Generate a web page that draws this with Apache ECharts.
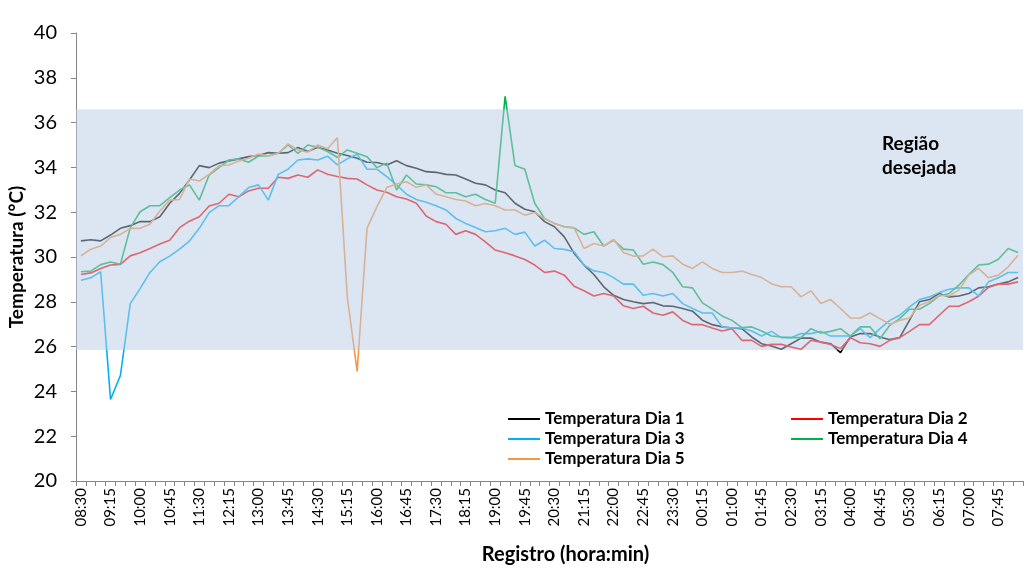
<!DOCTYPE html>
<html>
<head>
<meta charset="utf-8">
<script src="https://cdn.jsdelivr.net/npm/echarts@6/dist/echarts.min.js"></script>
<style>
  html, body { margin: 0; padding: 0; background: #ffffff; }
  #chart { width: 1028px; height: 569px; }
</style>
</head>
<body>
<div id="chart"></div>
<script>
// Registro a cada 15 minutos (08:30 até 08:15 do dia seguinte)
const horarios = [
  '08:30','08:45','09:00','09:15','09:30','09:45','10:00','10:15','10:30','10:45','11:00','11:15',
  '11:30','11:45','12:00','12:15','12:30','12:45','13:00','13:15','13:30','13:45','14:00','14:15',
  '14:30','14:45','15:00','15:15','15:30','15:45','16:00','16:15','16:30','16:45','17:00','17:15',
  '17:30','17:45','18:00','18:15','18:30','18:45','19:00','19:15','19:30','19:45','20:00','20:15',
  '20:30','20:45','21:00','21:15','21:30','21:45','22:00','22:15','22:30','22:45','23:00','23:15',
  '23:30','23:45','00:00','00:15','00:30','00:45','01:00','01:15','01:30','01:45','02:00','02:15',
  '02:30','02:45','03:00','03:15','03:30','03:45','04:00','04:15','04:30','04:45','05:00','05:15',
  '05:30','05:45','06:00','06:15','06:30','06:45','07:00','07:15','07:30','07:45','08:00','08:15'
];

// Temperaturas (°C)
const dia1 = [
  30.72,30.77,30.72,30.98,31.28,31.40,31.58,31.58,31.80,32.40,32.84,33.44,34.08,33.99,34.19,34.29,34.38,34.48,34.53,34.66,34.63,34.66,34.89,34.71,34.90,
  34.78,34.63,34.53,34.41,34.23,34.22,34.11,34.30,34.08,33.96,33.81,33.78,33.69,33.66,33.48,33.29,33.22,32.99,32.87,32.40,32.13,32.02,31.58,
  31.35,30.90,30.16,29.64,29.22,28.67,28.29,28.10,28.00,27.92,27.97,27.82,27.80,27.70,27.58,27.18,26.98,26.88,26.83,26.80,26.43,26.13,26.03,25.88,
  26.13,26.38,26.38,26.20,26.13,25.73,26.43,26.58,26.58,26.43,26.31,26.40,27.18,28.00,28.10,28.37,28.22,28.26,28.37,28.62,28.67,28.79,28.89,29.08
];
const dia2 = [
  29.22,29.29,29.49,29.64,29.67,30.05,30.19,30.38,30.58,30.75,31.31,31.60,31.80,32.28,32.40,32.80,32.69,32.95,33.07,33.07,33.56,33.51,33.66,33.56,33.89,
  33.69,33.59,33.51,33.48,33.22,32.99,32.89,32.69,32.59,32.40,31.83,31.58,31.46,31.01,31.17,31.01,30.68,30.31,30.19,30.05,29.89,29.64,29.31,
  29.37,29.19,28.69,28.49,28.26,28.37,28.26,27.82,27.70,27.80,27.50,27.40,27.55,27.17,26.98,26.98,26.83,26.70,26.80,26.28,26.28,26.01,26.10,26.10,
  25.98,25.88,26.28,26.20,26.09,25.91,26.40,26.17,26.13,26.01,26.28,26.40,26.68,26.98,26.98,27.40,27.80,27.80,28.00,28.25,28.64,28.79,28.79,28.89
];
const dia3 = [
  28.96,29.07,29.34,23.64,24.71,27.92,28.59,29.31,29.79,30.04,30.35,30.71,31.28,31.98,32.29,32.29,32.69,33.10,33.22,32.54,33.69,33.92,34.33,34.38,34.33,
  34.50,34.11,34.38,34.59,33.92,33.92,33.59,33.22,32.80,32.57,32.44,32.29,32.10,31.72,31.50,31.32,31.13,31.17,31.28,31.01,31.11,30.49,30.75,
  30.38,30.34,30.23,29.64,29.38,29.31,29.08,28.79,28.79,28.29,28.37,28.26,28.37,27.92,27.70,27.50,27.50,26.88,26.83,26.83,26.70,26.47,26.68,26.40,
  26.40,26.58,26.58,26.68,26.47,26.47,26.47,26.80,26.40,26.80,27.17,27.40,27.77,28.10,28.22,28.41,28.56,28.62,28.62,28.26,28.89,29.07,29.31,29.31
];
const dia4 = [
  29.34,29.37,29.66,29.78,29.68,31.30,32.02,32.29,32.29,32.65,32.99,33.22,32.54,33.66,33.99,34.33,34.38,34.23,34.51,34.51,34.63,35.00,34.63,35.00,34.90,
  34.71,34.44,34.78,34.63,34.48,33.99,34.19,32.99,33.66,33.26,33.22,33.14,32.87,32.87,32.69,32.80,32.57,32.40,37.17,34.08,33.92,32.40,31.72,
  31.50,31.35,31.30,31.01,31.13,30.49,30.75,30.35,30.31,29.68,29.78,29.66,29.31,28.67,28.62,27.95,27.67,27.37,27.17,26.85,26.88,26.70,26.47,26.43,
  26.40,26.40,26.80,26.61,26.68,26.80,26.47,26.88,26.88,26.35,26.95,27.25,27.67,27.67,27.92,28.26,28.37,28.74,29.22,29.64,29.68,29.90,30.38,30.20
];
const dia5 = [
  30.05,30.35,30.49,30.87,31.01,31.28,31.28,31.46,32.05,32.54,32.57,33.48,33.39,33.69,34.08,34.11,34.29,34.41,34.60,34.51,34.63,35.05,34.78,34.68,35.00,
  34.83,35.33,28.22,24.89,31.28,32.24,33.10,33.26,33.36,33.11,33.22,32.81,32.69,32.57,32.50,32.29,32.39,32.29,32.10,32.10,31.87,31.99,31.72,
  31.50,31.35,31.30,30.38,30.60,30.49,30.78,30.20,30.04,30.05,30.35,30.01,30.05,29.68,29.49,29.78,29.49,29.31,29.31,29.37,29.22,29.08,28.81,28.67,
  28.67,28.22,28.49,27.92,28.10,27.70,27.28,27.28,27.50,27.25,27.00,27.17,27.28,27.85,28.00,28.29,28.26,28.52,29.19,29.49,29.07,29.19,29.56,30.08
];

// Faixa de temperatura desejada (°C)
const faixaDesejada = [25.85, 36.6];

const nomes = ['Temperatura Dia 1','Temperatura Dia 2','Temperatura Dia 3','Temperatura Dia 4','Temperatura Dia 5'];
const valores = [dia1, dia2, dia3, dia4, dia5];
const cores = ['#000000','#ff0000','#00b0f0','#00b050','#f79646'];

const fonte = 'Lato, "Open Sans", sans-serif';

const series = valores.map((v, k) => ({
  name: nomes[k],
  type: 'line',
  data: v,
  symbol: 'none',
  smooth: false,
  lineStyle: { width: 1.6, color: cores[k] },
  itemStyle: { color: cores[k] },
  animation: false
}));

// Faixa translúcida desenhada por cima das linhas
series[4].markArea = {
  silent: true,
  z: 10,
  itemStyle: { color: 'rgba(185,205,229,0.5)' },
  data: [[{ yAxis: faixaDesejada[0] }, { yAxis: faixaDesejada[1] }]]
};

const legendaBase = {
  orient: 'vertical',
  itemWidth: 32,
  itemHeight: 12,
  itemGap: 0,
  icon: 'path://M0,5 L32,5 L32,7 L0,7 Z',
  textStyle: { fontFamily: fonte, fontWeight: 'bold', fontSize: 17, color: '#000', lineHeight: 20 },
  selectedMode: false
};

const chart = echarts.init(document.getElementById('chart'), null, { renderer: 'canvas' });
chart.setOption({
  backgroundColor: '#ffffff',
  animation: false,
  textStyle: { fontFamily: fonte },
  grid: { left: 76, right: 5, top: 33, bottom: 88, containLabel: false, outerBoundsMode: 'none' },
  legend: [
    Object.assign({}, legendaBase, { left: 503, top: 404, data: [nomes[0], nomes[2], nomes[4]] }),
    Object.assign({}, legendaBase, { left: 786, top: 404, data: [nomes[1], nomes[3]] })
  ],
  xAxis: {
    type: 'category',
    data: horarios,
    boundaryGap: true,
    name: 'Registro (hora:min)',
    nameLocation: 'middle',
    nameGap: 64,
    nameMoveOverlap: false,
    nameTextStyle: { fontFamily: fonte, fontWeight: 'bold', fontSize: 20, color: '#000', padding: [0, 0, 0, 32] },
    axisLine: { lineStyle: { color: '#868686', width: 1 } },
    axisTick: { show: true, interval: 0, length: 5, lineStyle: { color: '#868686' } },
    axisLabel: { interval: 2, rotate: 90, margin: 7, fontSize: 15, color: '#000', fontFamily: fonte },
    splitLine: { show: false }
  },
  yAxis: {
    type: 'value',
    min: 20,
    max: 40,
    interval: 2,
    name: 'Temperatura (°C)',
    nameLocation: 'middle',
    nameGap: 50,
    nameMoveOverlap: false,
    nameTextStyle: { fontFamily: fonte, fontWeight: 'bold', fontSize: 19, color: '#000' },
    axisLine: { show: true, lineStyle: { color: '#868686', width: 1 } },
    axisTick: { show: true, length: 5, lineStyle: { color: '#868686' } },
    axisLabel: { fontSize: 20, color: '#000', margin: 19, fontFamily: fonte },
    splitLine: { show: false }
  },
  graphic: [{
    type: 'text',
    left: 882,
    top: 132,
    style: {
      text: 'Região\ndesejada',
      font: 'bold 19px ' + fonte,
      lineHeight: 24,
      fill: '#000'
    },
    z: 20
  }],
  series: series
});
</script>
</body>
</html>
